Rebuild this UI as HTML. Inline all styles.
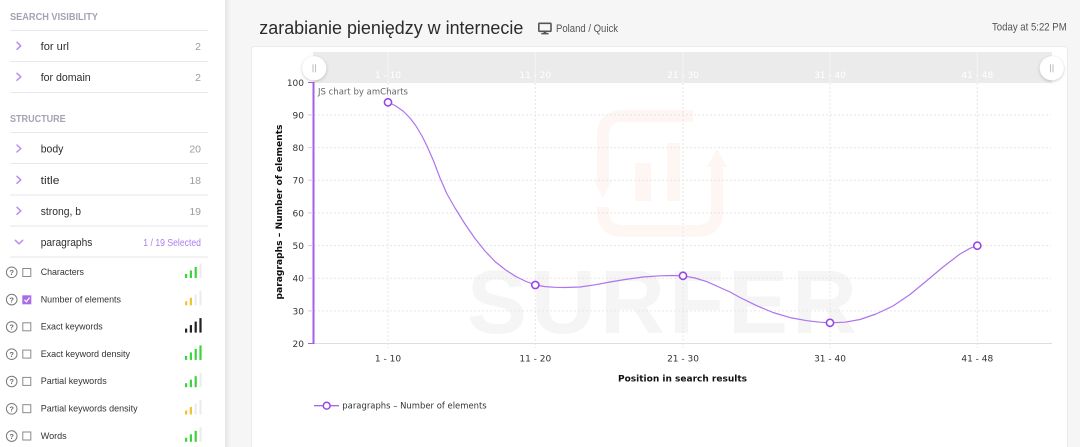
<!DOCTYPE html>
<html>
<head>
<meta charset="utf-8">
<style>
html,body{margin:0;padding:0;background:#f6f6f6;overflow:hidden;}
svg{display:block;}
.ui{font-family:"Liberation Sans","DejaVu Sans",sans-serif;}
.ch{font-family:"DejaVu Sans","Liberation Sans",sans-serif;}
</style>
</head>
<body>
<svg width="1080" height="447" viewBox="0 0 1080 447" xmlns="http://www.w3.org/2000/svg">
<defs>
  <linearGradient id="sh" x1="0" x2="1" y1="0" y2="0">
    <stop offset="0" stop-color="#e6e6e6"/>
    <stop offset="1" stop-color="#f6f6f6"/>
  </linearGradient>
  <filter id="ds" x="-50%" y="-50%" width="200%" height="200%">
    <feDropShadow dx="0" dy="1" stdDeviation="1.5" flood-color="#000" flood-opacity="0.22"/>
  </filter>
</defs>

<!-- backgrounds -->
<rect x="0" y="0" width="1080" height="447" fill="#f6f6f6"/>
<rect x="0" y="0" width="225" height="447" fill="#ffffff"/>
<rect x="225" y="0" width="6" height="447" fill="url(#sh)"/>

<!-- ===== SIDEBAR ===== -->
<g class="ui">
  <text x="10" y="20" font-size="10" font-weight="bold" fill="#a3a3b3" textLength="88" lengthAdjust="spacingAndGlyphs">SEARCH VISIBILITY</text>
  <g stroke="#e7e7ed" stroke-width="1">
    <line x1="10" y1="30.5" x2="208" y2="30.5"/>
    <line x1="10" y1="61.5" x2="208" y2="61.5"/>
    <line x1="10" y1="92.5" x2="208" y2="92.5"/>
    <line x1="10" y1="132.5" x2="208" y2="132.5"/>
    <line x1="10" y1="163.5" x2="208" y2="163.5"/>
    <line x1="10" y1="195" x2="208" y2="195"/>
    <line x1="10" y1="226" x2="208" y2="226"/>
    <line x1="10" y1="257" x2="208" y2="257"/>
  </g>
  <!-- chevrons -->
  <g fill="none" stroke="#bb8cf1" stroke-width="1.5" stroke-linecap="round" stroke-linejoin="round">
    <path d="M17,42.3 L20.8,45.8 L17,49.3"/>
    <path d="M17,73.3 L20.8,76.8 L17,80.3"/>
    <path d="M17,145 L20.8,148.5 L17,152"/>
    <path d="M17,176.3 L20.8,179.8 L17,183.3"/>
    <path d="M17,207.3 L20.8,210.8 L17,214.3"/>
    <path d="M15.3,240.3 L19,243.8 L22.7,240.3"/>
  </g>
  <g font-size="11" fill="#2e2e2e">
    <text x="40.7" y="50" textLength="28.3" lengthAdjust="spacingAndGlyphs">for url</text>
    <text x="40.7" y="81" textLength="50" lengthAdjust="spacingAndGlyphs">for domain</text>
    <text x="40.7" y="152.7" textLength="22.7" lengthAdjust="spacingAndGlyphs">body</text>
    <text x="40.7" y="184" textLength="18.7" lengthAdjust="spacingAndGlyphs">title</text>
    <text x="40.7" y="215" textLength="40.3" lengthAdjust="spacingAndGlyphs">strong, b</text>
    <text x="40.7" y="246" textLength="51.7" lengthAdjust="spacingAndGlyphs">paragraphs</text>
  </g>
  <g font-size="10.5" fill="#9d9d9d" text-anchor="end">
    <text x="201" y="50">2</text>
    <text x="201" y="81">2</text>
    <text x="201" y="152.7">20</text>
    <text x="201" y="184">18</text>
    <text x="201" y="215">19</text>
  </g>
  <text x="143.3" y="246" font-size="10.5" fill="#ad7bf0" textLength="57.7" lengthAdjust="spacingAndGlyphs">1 / 19 Selected</text>
  <text x="10" y="122" font-size="10" font-weight="bold" fill="#a3a3b3" textLength="55.7" lengthAdjust="spacingAndGlyphs">STRUCTURE</text>

  <!-- items -->
  <g font-size="9.3" fill="#333">
    <text x="40.7" y="275" textLength="43.3" lengthAdjust="spacingAndGlyphs">Characters</text>
    <text x="40.7" y="302.3" textLength="80.3" lengthAdjust="spacingAndGlyphs">Number of elements</text>
    <text x="40.7" y="329.6" textLength="62" lengthAdjust="spacingAndGlyphs">Exact keywords</text>
    <text x="40.7" y="356.9" textLength="89.3" lengthAdjust="spacingAndGlyphs">Exact keyword density</text>
    <text x="40.7" y="384.2" textLength="66" lengthAdjust="spacingAndGlyphs">Partial keywords</text>
    <text x="40.7" y="411.5" textLength="97" lengthAdjust="spacingAndGlyphs">Partial keywords density</text>
    <text x="40.7" y="438.8" textLength="26" lengthAdjust="spacingAndGlyphs">Words</text>
  </g>
  <!-- question circles -->
  <g fill="none" stroke="#7a7a7a" stroke-width="1">
    <circle cx="11.7" cy="272.3" r="5.3"/>
    <circle cx="11.7" cy="299.6" r="5.3"/>
    <circle cx="11.7" cy="326.9" r="5.3"/>
    <circle cx="11.7" cy="354.2" r="5.3"/>
    <circle cx="11.7" cy="381.5" r="5.3"/>
    <circle cx="11.7" cy="408.8" r="5.3"/>
    <circle cx="11.7" cy="436.1" r="5.3"/>
  </g>
  <g font-size="7.5" fill="#6a6a6a" text-anchor="middle" font-weight="bold">
    <text x="11.7" y="275">?</text>
    <text x="11.7" y="302.3">?</text>
    <text x="11.7" y="329.6">?</text>
    <text x="11.7" y="356.9">?</text>
    <text x="11.7" y="384.2">?</text>
    <text x="11.7" y="411.5">?</text>
    <text x="11.7" y="438.8">?</text>
  </g>
  <!-- checkboxes -->
  <g fill="#fff" stroke="#8a8a8a" stroke-width="1">
    <rect x="22.8" y="268.5" width="8" height="8"/>
    <rect x="22.8" y="322.8" width="8" height="8"/>
    <rect x="22.8" y="350.1" width="8" height="8"/>
    <rect x="22.8" y="377.4" width="8" height="8"/>
    <rect x="22.8" y="404.7" width="8" height="8"/>
    <rect x="22.8" y="432" width="8" height="8"/>
  </g>
  <rect x="22.3" y="295.3" width="9" height="9" fill="#a86cea"/>
  <path d="M24.5,299.8 L26.4,301.8 L29.6,297.6" fill="none" stroke="#fff" stroke-width="1.2"/>

  <!-- signal bars -->
  <g>
    <rect x="185" y="274" width="2.2" height="4" fill="#3fd23f"/>
    <rect x="189.8" y="270.5" width="2.2" height="7.5" fill="#3fd23f"/>
    <rect x="194.6" y="267" width="2.2" height="11" fill="#3fd23f"/>
    <rect x="199.4" y="263.5" width="2.2" height="14.5" fill="#ececec"/>
  </g>
  <g>
    <rect x="185" y="301.3" width="2.2" height="4" fill="#f2c230"/>
    <rect x="189.8" y="297.8" width="2.2" height="7.5" fill="#f2c230"/>
    <rect x="194.6" y="294.3" width="2.2" height="11" fill="#ececec"/>
    <rect x="199.4" y="290.8" width="2.2" height="14.5" fill="#ececec"/>
  </g>
  <g fill="#222">
    <rect x="185" y="328.6" width="2.2" height="4"/>
    <rect x="189.8" y="325.1" width="2.2" height="7.5"/>
    <rect x="194.6" y="321.6" width="2.2" height="11"/>
    <rect x="199.4" y="318.1" width="2.2" height="14.5"/>
  </g>
  <g fill="#3fd23f">
    <rect x="185" y="355.9" width="2.2" height="4"/>
    <rect x="189.8" y="352.4" width="2.2" height="7.5"/>
    <rect x="194.6" y="348.9" width="2.2" height="11"/>
    <rect x="199.4" y="345.4" width="2.2" height="14.5"/>
  </g>
  <g>
    <rect x="185" y="383.2" width="2.2" height="4" fill="#3fd23f"/>
    <rect x="189.8" y="379.7" width="2.2" height="7.5" fill="#3fd23f"/>
    <rect x="194.6" y="376.2" width="2.2" height="11" fill="#3fd23f"/>
    <rect x="199.4" y="372.7" width="2.2" height="14.5" fill="#ececec"/>
  </g>
  <g>
    <rect x="185" y="410.5" width="2.2" height="4" fill="#f2c230"/>
    <rect x="189.8" y="407" width="2.2" height="7.5" fill="#f2c230"/>
    <rect x="194.6" y="403.5" width="2.2" height="11" fill="#ececec"/>
    <rect x="199.4" y="400" width="2.2" height="14.5" fill="#ececec"/>
  </g>
  <g>
    <rect x="185" y="437.8" width="2.2" height="4" fill="#3fd23f"/>
    <rect x="189.8" y="434.3" width="2.2" height="7.5" fill="#3fd23f"/>
    <rect x="194.6" y="430.8" width="2.2" height="11" fill="#3fd23f"/>
    <rect x="199.4" y="427.3" width="2.2" height="14.5" fill="#ececec"/>
  </g>
</g>

<!-- ===== HEADER ===== -->
<g class="ui">
  <text x="259.3" y="34" font-size="18.5" fill="#2b2b2b" textLength="264" lengthAdjust="spacingAndGlyphs">zarabianie pieniędzy w internecie</text>
  <rect x="538.8" y="23.3" width="12.2" height="8" rx="0.8" fill="none" stroke="#555" stroke-width="1.6"/>
  <rect x="543.5" y="31" width="2.8" height="2.3" fill="#555"/>
  <rect x="541.3" y="33" width="7.2" height="1.4" fill="#555"/>
  <text x="556" y="32" font-size="11" fill="#555" textLength="62" lengthAdjust="spacingAndGlyphs">Poland / Quick</text>
  <text x="992" y="30.5" font-size="11" fill="#555" textLength="74.7" lengthAdjust="spacingAndGlyphs">Today at 5:22 PM</text>
</g>

<!-- ===== CARD ===== -->
<rect x="251.5" y="46.5" width="816" height="410" rx="3" fill="#fff" stroke="#ebebeb" stroke-width="1"/>

<!-- watermark logo (very faint) -->
<g fill="none" stroke="#fdf6f3" stroke-width="12">
  <path d="M603,182 L603,136 Q603,116 623,116 L693,116"/>
  <path d="M717,163 L717,211 Q717,231 697,231 L623,231 Q603,231 603,211 L603,207"/>
</g>
<g fill="#fdf6f3">
  <polygon points="594,180 612,180 603,198"/>
  <polygon points="707,167 727,167 717,149"/>
  <rect x="635" y="163" width="16" height="38"/>
  <rect x="667" y="143" width="13" height="58"/>
</g>
<text x="467" y="333" font-family="Liberation Sans, sans-serif" font-size="90" font-weight="bold" fill="#f5f5f5" textLength="390" lengthAdjust="spacing">SURFER</text>

<!-- scrollbar band -->
<rect x="313" y="52" width="739" height="31" fill="#ebebeb"/>
<g stroke="#f4f4f4" stroke-width="1">
  <line x1="388" y1="52" x2="388" y2="83"/>
  <line x1="535.3" y1="52" x2="535.3" y2="83"/>
  <line x1="683" y1="52" x2="683" y2="83"/>
  <line x1="830" y1="52" x2="830" y2="83"/>
  <line x1="977.3" y1="52" x2="977.3" y2="83"/>
</g>
<g class="ch" font-size="9" fill="#ffffff" text-anchor="middle">
  <text x="388" y="78">1 - 10</text>
  <text x="535.3" y="78">11 - 20</text>
  <text x="683" y="78">21 - 30</text>
  <text x="830" y="78">31 - 40</text>
  <text x="977.3" y="78">41 - 48</text>
</g>

<!-- grid -->
<g stroke="#e6e6e6" stroke-width="1" stroke-dasharray="2,2">
  <line x1="314" y1="114.9" x2="1051" y2="114.9"/>
  <line x1="314" y1="147.6" x2="1051" y2="147.6"/>
  <line x1="314" y1="180.2" x2="1051" y2="180.2"/>
  <line x1="314" y1="212.9" x2="1051" y2="212.9"/>
  <line x1="314" y1="245.6" x2="1051" y2="245.6"/>
  <line x1="314" y1="278.2" x2="1051" y2="278.2"/>
  <line x1="314" y1="310.9" x2="1051" y2="310.9"/>
  <line x1="388" y1="83" x2="388" y2="348"/>
  <line x1="535.3" y1="83" x2="535.3" y2="348"/>
  <line x1="683" y1="83" x2="683" y2="348"/>
  <line x1="830" y1="83" x2="830" y2="348"/>
  <line x1="977.3" y1="83" x2="977.3" y2="348"/>
</g>
<!-- x axis -->
<line x1="313" y1="343.5" x2="1052" y2="343.5" stroke="#dedede" stroke-width="1"/>
<!-- y axis -->
<line x1="313.5" y1="82" x2="313.5" y2="344" stroke="#a45ee9" stroke-width="2"/>
<g stroke="#a45ee9" stroke-width="1">
  <line x1="308" y1="82.5" x2="313" y2="82.5"/>
  <line x1="308" y1="343.5" x2="313" y2="343.5"/>
</g>
<g stroke="#d9c4f3" stroke-width="1">
  <line x1="308" y1="114.9" x2="313" y2="114.9"/>
  <line x1="308" y1="147.6" x2="313" y2="147.6"/>
  <line x1="308" y1="180.2" x2="313" y2="180.2"/>
  <line x1="308" y1="212.9" x2="313" y2="212.9"/>
  <line x1="308" y1="245.6" x2="313" y2="245.6"/>
  <line x1="308" y1="278.2" x2="313" y2="278.2"/>
  <line x1="308" y1="310.9" x2="313" y2="310.9"/>
</g>

<!-- y labels -->
<g class="ch" font-size="9" fill="#333" text-anchor="end">
  <text x="304" y="85.8">100</text>
  <text x="304" y="118.4">90</text>
  <text x="304" y="151.1">80</text>
  <text x="304" y="183.7">70</text>
  <text x="304" y="216.4">60</text>
  <text x="304" y="249.1">50</text>
  <text x="304" y="281.7">40</text>
  <text x="304" y="314.4">30</text>
  <text x="304" y="347">20</text>
</g>
<!-- x labels -->
<g class="ch" font-size="9" fill="#333" text-anchor="middle">
  <text x="388" y="361.5">1 - 10</text>
  <text x="535.3" y="361.5">11 - 20</text>
  <text x="683" y="361.5">21 - 30</text>
  <text x="830" y="361.5">31 - 40</text>
  <text x="977.3" y="361.5">41 - 48</text>
</g>
<text class="ch" x="618" y="381.5" font-size="9" font-weight="bold" fill="#111" textLength="129" lengthAdjust="spacingAndGlyphs">Position in search results</text>
<text class="ch" transform="translate(282,299.5) rotate(-90)" x="0" y="0" font-size="9" font-weight="bold" fill="#111" textLength="175" lengthAdjust="spacingAndGlyphs">paragraphs – Number of elements</text>
<text class="ch" x="318" y="94.5" font-size="9" fill="#666" textLength="90" lengthAdjust="spacingAndGlyphs">JS chart by amCharts</text>

<!-- series -->
<polyline fill="none" stroke="#ad74ec" stroke-width="1.2" stroke-linejoin="round" stroke-linecap="round"
 points="388,102.3 395,105.5 403,111 410,118 416,126 422,136 427,146 434,162 440,178 447,194 455,208 465,224 475,238.5 485,251 495,261.5 505,269.5 515,276 525,281 535.3,285 545,286.6 555,287.3 565,287.5 580,287 595,284.8 610,282 625,279.5 643,277 660,275.8 672,275.5 683,275.8 695,278 707,281.7 720,287.5 730,292 740,297.5 757,305.8 773,312.5 790,317.6 807,320.7 820,322.2 830,322.8 845,322.2 860,319.5 876,314 893,306 910,294.5 927,280.5 943,267 960,254 970,248.3 977.3,245.7"/>
<g fill="#fff" stroke="#9a45e6" stroke-width="1.6">
  <circle cx="388" cy="102.3" r="3.6"/>
  <circle cx="535.3" cy="285" r="3.6"/>
  <circle cx="683" cy="275.8" r="3.6"/>
  <circle cx="830" cy="322.8" r="3.6"/>
  <circle cx="977.3" cy="245.7" r="3.6"/>
</g>

<!-- handles -->
<g filter="url(#ds)">
  <circle cx="314.3" cy="68.3" r="12" fill="#fff"/>
  <circle cx="1051.7" cy="68.3" r="12" fill="#fff"/>
</g>
<g stroke="#b5b5b5" stroke-width="0.9">
  <line x1="313" y1="64.3" x2="313" y2="72.3"/>
  <line x1="315.6" y1="64.3" x2="315.6" y2="72.3"/>
  <line x1="1050.4" y1="64.3" x2="1050.4" y2="72.3"/>
  <line x1="1053" y1="64.3" x2="1053" y2="72.3"/>
</g>

<!-- legend -->
<line x1="314" y1="405.7" x2="339" y2="405.7" stroke="#a76ae9" stroke-width="1.3"/>
<circle cx="326.7" cy="405.7" r="3.4" fill="#fff" stroke="#9a45e6" stroke-width="1.5"/>
<text class="ch" x="342.3" y="408.7" font-size="9" fill="#333" textLength="144.4" lengthAdjust="spacingAndGlyphs">paragraphs – Number of elements</text>
</svg>
</body>
</html>
